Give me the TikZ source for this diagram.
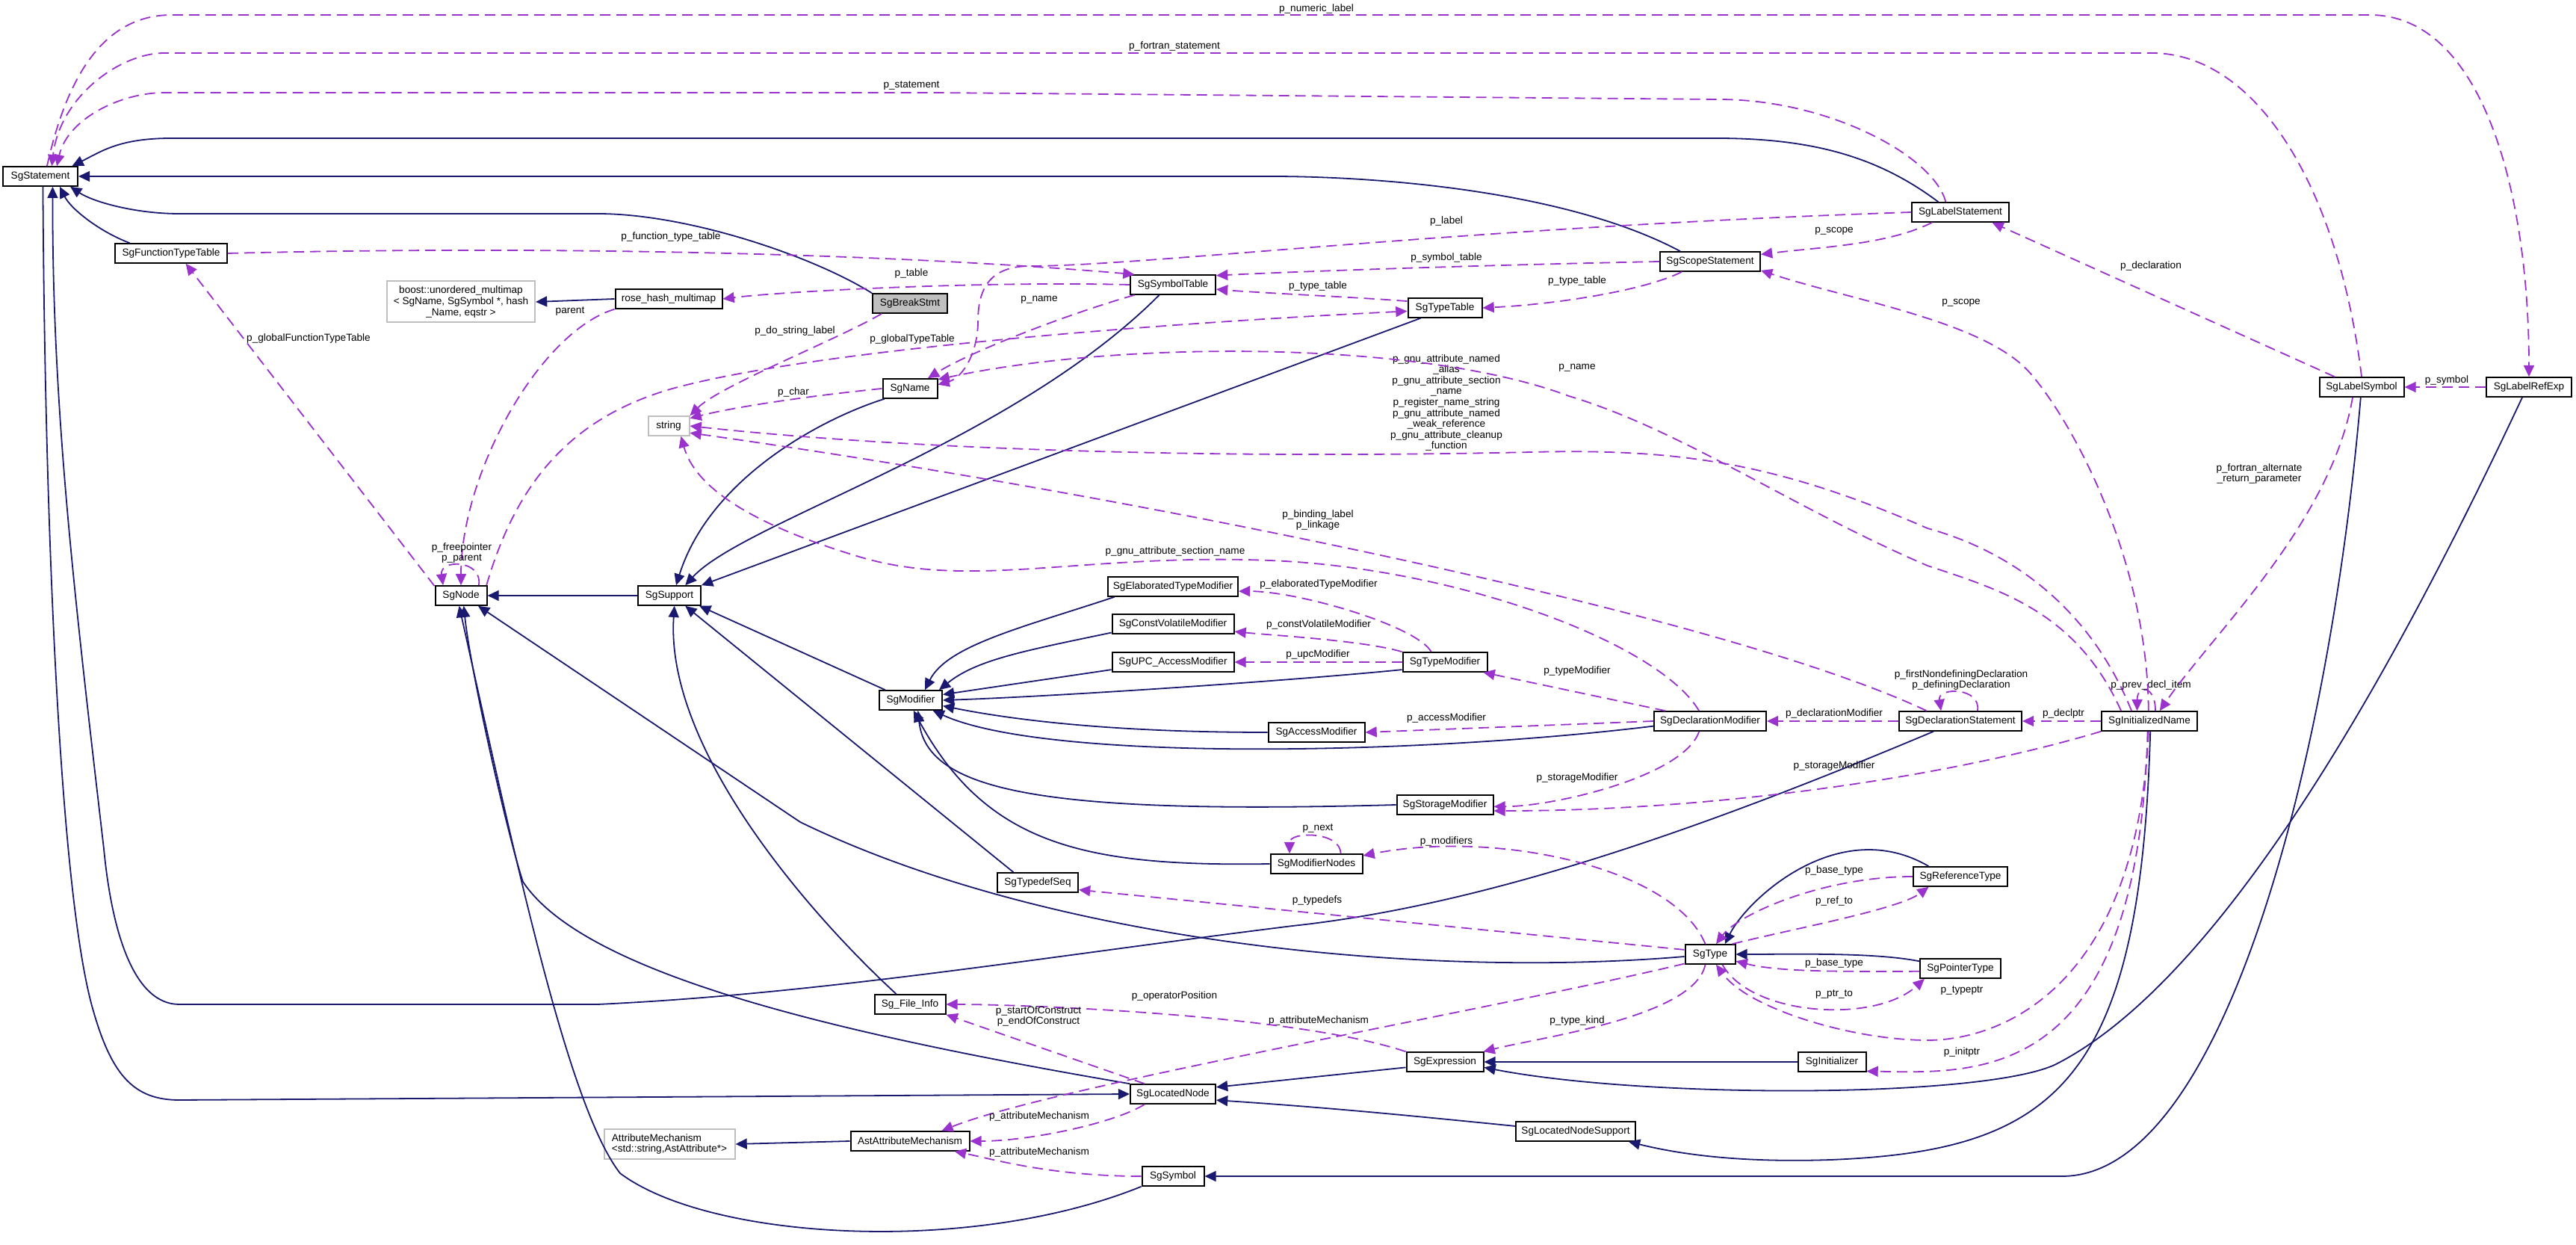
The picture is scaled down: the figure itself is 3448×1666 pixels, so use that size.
\documentclass[tikz,border=0pt]{standalone}
\usepackage{fontspec}
\setmainfont{Liberation Sans}
\usepackage{xcolor}
\usepackage{tikz}
\usetikzlibrary{arrows.meta}

\definecolor{azulheranca}{HTML}{191970}
\definecolor{roxouso}{HTML}{9A32CD}
\definecolor{cinzaext}{HTML}{BFBFBF}

\begin{document}
\begin{tikzpicture}[x=0.25pt, y=-0.25pt,
        classe/.style={
            draw=black, line width=0.5pt, fill=white,
            minimum height=6.4pt, inner xsep=1pt, inner ysep=0.5pt,
            font={\fontsize{3.4}{3.65}\selectfont}
        },
        externa/.style={classe, draw=cinzaext},
        heranca/.style={draw=azulheranca, line width=0.45pt, -{Triangle[length=3.8pt,width=3.5pt]}},
        uso/.style={draw=roxouso, line width=0.45pt, dash pattern=on 3.5pt off 2pt, -{Triangle[length=3.8pt,width=3.5pt]}},
        rotulo/.style={font={\fontsize{3.4}{3.65}\selectfont}, text=black, align=center, inner sep=0pt}
    ]

    \fill[white] (0,0) rectangle (3448,1666);
    \useasboundingbox (0,0) rectangle (3448,1666);

    % classes
    \node[classe, minimum width=25pt] (sgstatement) at (54,236) {SgStatement};
    \node[classe, minimum width=37.5pt] (sgfunctiontypetable) at (229,339) {SgFunctionTypeTable};
    \node[externa, minimum width=49.5pt, minimum height=13.75pt, align=center] (boostmap) at (617,404)
        {boost::unordered\_multimap\\< SgName, SgSymbol *, hash\\\_Name, eqstr >};
    \node[classe, minimum width=35.75pt] (rosehashmultimap) at (895,400) {rose\_hash\_multimap};
    \node[classe, fill=cinzaext, minimum width=25pt] (sgbreakstmt) at (1218,406) {SgBreakStmt};
    \node[classe, minimum width=28.5pt] (sgsymboltable) at (1570,381) {SgSymbolTable};
    \node[classe, minimum width=18.25pt] (sgname) at (1218,520) {SgName};
    \node[externa, minimum width=13.75pt] (stdstring) at (895,570) {string};
    \node[classe, minimum width=24.75pt] (sgtypetable) at (1934,412) {SgTypeTable};
    \node[classe, minimum width=33.5pt] (sgscopestatement) at (2289,350) {SgScopeStatement};
    \node[classe, minimum width=32.5pt] (sglabelstatement) at (2624,284) {SgLabelStatement};
    \node[classe, minimum width=28.25pt] (sglabelsymbol) at (3161,518) {SgLabelSymbol};
    \node[classe, minimum width=28.5pt] (sglabelrefexp) at (3385,518) {SgLabelRefExp};
    \node[classe, minimum width=17.25pt] (sgnode) at (617,797) {SgNode};
    \node[classe, minimum width=21pt] (sgsupport) at (896,797) {SgSupport};
    \node[classe, minimum width=21pt] (sgmodifier) at (1219,937) {SgModifier};
    \node[classe, minimum width=43.5pt] (sgelaboratedtypemodifier) at (1570,785) {SgElaboratedTypeModifier};
    \node[classe, minimum width=40.75pt] (sgconstvolatilemodifier) at (1570,835) {SgConstVolatileModifier};
    \node[classe, minimum width=40.75pt] (sgupcaccessmodifier) at (1570,886) {SgUPC\_AccessModifier};
    \node[classe, minimum width=32.25pt] (sgaccessmodifier) at (1762,980) {SgAccessModifier};
    \node[classe, minimum width=28.25pt] (sgtypemodifier) at (1934,886) {SgTypeModifier};
    \node[classe, minimum width=37.5pt] (sgdeclarationmodifier) at (2289,965) {SgDeclarationModifier};
    \node[classe, minimum width=32.25pt] (sgstoragemodifier) at (1934,1077) {SgStorageModifier};
    \node[classe, minimum width=41pt] (sgdeclarationstatement) at (2624,965) {SgDeclarationStatement};
    \node[classe, minimum width=32pt] (sginitializedname) at (2877,965) {SgInitializedName};
    \node[classe, minimum width=30.75pt] (sgmodifiernodes) at (1762,1156) {SgModifierNodes};
    \node[classe, minimum width=27pt] (sgtypedefseq) at (1389,1181) {SgTypedefSeq};
    \node[classe, minimum width=16.75pt] (sgtype) at (2289,1277) {SgType};
    \node[classe, minimum width=31.5pt] (sgreferencetype) at (2624,1173) {SgReferenceType};
    \node[classe, minimum width=27pt] (sgpointertype) at (2624,1296) {SgPointerType};
    \node[classe, minimum width=23.75pt] (sgfileinfo) at (1218,1344) {Sg\_File\_Info};
    \node[classe, minimum width=25.75pt] (sgexpression) at (1934,1421) {SgExpression};
    \node[classe, minimum width=22.75pt] (sginitializer) at (2452,1421) {SgInitializer};
    \node[classe, minimum width=28.5pt] (sglocatednode) at (1570,1464) {SgLocatedNode};
    \node[classe, minimum width=40pt] (sglocatednodesupport) at (2109,1514) {SgLocatedNodeSupport};
    \node[externa, minimum width=43.75pt, minimum height=10pt, align=left] (attributemechanism) at (896,1531)
        {AttributeMechanism\\<std::string,AstAttribute*>};
    \node[classe, minimum width=39.75pt] (astattributemechanism) at (1218,1527) {AstAttributeMechanism};
    \node[classe, minimum width=20.75pt] (sgsymbol) at (1570,1574) {SgSymbol};

    % heranca (seta do lado da classe base)
    \draw[heranca] (sgbreakstmt.north west) .. controls +(-80,-50) and +(120,0) .. (800,286) -- (240,286) .. controls +(-60,0) and +(30,20) .. (sgstatement.-19);
    \draw[heranca] (sglabelstatement.155) .. controls +(-80,-60) and +(130,0) .. (2297,185) -- (230,185) .. controls +(-70,0) and +(40,-20) .. (sgstatement.18);
    \draw[heranca] (sgscopestatement.161) .. controls +(-150,-80) and +(150,0) .. (1700,236) -- (sgstatement.east);
    \draw[heranca] (sgfunctiontypetable.166) .. controls +(-40,-15) and +(15,30) .. (sgstatement.-28);
    \draw[heranca] (sgdeclarationstatement.-159) .. controls (2300,1100) and (2000,1210) .. (1730,1239) .. controls (1400,1280) and (1100,1330) .. (800,1344) -- (240,1344) .. controls (180,1344) and (150,1250) .. (139,1136) .. controls (100,800) and (70,550) .. (sgstatement.-40);
    \draw[heranca] (sgstatement.-76) .. controls (60,700) and (80,1200) .. (125,1353) .. controls (150,1440) and (180,1472) .. (240,1472) -- (sglocatednode.west);
    \draw[heranca] (sglocatednode.north west) .. controls (1100,1380) and (780,1300) .. (700,1180) .. controls (680,1120) and (630,900) .. (sgnode.-75);
    \draw[heranca] (sgsymbol.south west) .. controls (1300,1680) and (950,1660) .. (830,1570) .. controls (760,1480) and (690,1150) .. (sgnode.-100);
    \draw[heranca] (sgtype.-175) .. controls (1900,1310) and (1400,1260) .. (1071,1100) -- (sgnode.-31);
    \draw[heranca] (sgsupport.west) -- (sgnode.east);
    \draw[heranca] (sgname.-158) .. controls (1100,560) and (950,640) .. (sgsupport.57);
    \draw[heranca] (sgsymboltable.-143) .. controls (1353,594) and (995,698) .. (sgsupport.33);
    \draw[heranca] (sgtypetable.-157) -- (sgsupport.north east);
    \draw[heranca] (sgmodifier.158) -- (sgsupport.-19);
    \draw[heranca] (sgtypedefseq.157) -- (sgsupport.-33);
    \draw[heranca] (sgfileinfo.143) .. controls (1080,1220) and (890,1000) .. (sgsupport.-64);
    \draw[heranca] (sgelaboratedtypemodifier.-170) .. controls +(-120,40) and +(30,-60) .. (sgmodifier.36);
    \draw[heranca] (sgconstvolatilemodifier.-172) .. controls +(-120,25) and +(50,-40) .. (sgmodifier.20);
    \draw[heranca] (sgupcaccessmodifier.-173) -- (sgmodifier.10);
    \draw[heranca] (sgtypemodifier.-170) .. controls +(-150,15) and +(150,-5) .. (sgmodifier.east);
    \draw[heranca] (sgaccessmodifier.west) .. controls +(-200,0) and +(100,20) .. (sgmodifier.-10);
    \draw[heranca] (sgdeclarationmodifier.-175) .. controls (1900,1010) and (1400,1020) .. (sgmodifier.-25);
    \draw[heranca] (sgstoragemodifier.west) .. controls (1400,1090) and (1240,1060) .. (sgmodifier.-55);
    \draw[heranca] (sgmodifiernodes.west) .. controls (1450,1160) and (1320,1130) .. (sgmodifier.-75);
    \draw[heranca] (sgexpression.-172) -- (sglocatednode.9);
    \draw[heranca] (sglocatednodesupport.175) .. controls +(-150,-15) and +(150,10) .. (sglocatednode.-8);
    \draw[heranca] (sginitializer.west) -- (sgexpression.east);
    \draw[heranca] (sglabelrefexp.-123) .. controls (3250,800) and (3000,1300) .. (2750,1425) .. controls (2650,1470) and (2200,1470) .. (sgexpression.-8);
    \draw[heranca] (sginitializedname.-85) .. controls (2865,1450) and (2750,1540) .. (2450,1552) .. controls (2330,1556) and (2250,1545) .. (sglocatednodesupport.-11);
    \draw[heranca] (sglabelsymbol.-95) .. controls (3120,1000) and (2980,1574) .. (2760,1574) -- (sgsymbol.east);
    \draw[heranca] (sgreferencetype.162) .. controls +(-120,-70) and +(30,-60) .. (sgtype.35);
    \draw[heranca] (sgpointertype.170) .. controls +(-60,-12) and +(80,0) .. (sgtype.east);
    \draw[heranca] (rosehashmultimap.west) -- (boostmap.east);
    \draw[heranca] (astattributemechanism.west) -- (attributemechanism.east);

    % membros (seta do lado do tipo usado)
    \draw[uso] (sgstatement.57) .. controls (90,100) and (140,20) .. (230,20) -- (3172,20) .. controls (3322,20) and (3385,256) .. (sglabelrefexp.north) node[rotulo] at (1762,12) {p\_numeric\_label};
    \draw[uso] (sglabelsymbol.north) .. controls (3130,250) and (3020,71) .. (2880,71) -- (220,71) .. controls (160,71) and (80,130) .. (sgstatement.42) node[rotulo] at (1572,62) {p\_fortran\_statement};
    \draw[uso] (sglabelstatement.145) .. controls +(-15,-60) and +(150,0) .. (2300,133) -- (1250,124) -- (220,124) .. controls (160,124) and (90,160) .. (sgstatement.32) node[rotulo] at (1220,115) {p\_statement};
    \draw[uso] (sglabelstatement.west) .. controls (1959,304) and (1530,356) .. (1380,356) .. controls (1330,356) and (1309,380) .. (1309,430) .. controls (1309,470) and (1290,505) .. (sgname.8) node[rotulo] at (1936,296) {p\_label};
    \draw[uso] (sglabelstatement.-160) .. controls +(-60,30) and +(80,-10) .. (sgscopestatement.8) node[rotulo] at (2455,309) {p\_scope};
    \draw[uso] (sgscopestatement.west) .. controls +(-250,5) and +(100,-5) .. (sgsymboltable.12) node[rotulo] at (1936,345) {p\_symbol\_table};
    \draw[uso] (sgscopestatement.-160) .. controls +(-50,25) and +(100,-5) .. (sgtypetable.east) node[rotulo] at (2111,376) {p\_type\_table};
    \draw[uso] (sgtypetable.170) .. controls +(-60,-5) and +(60,5) .. (sgsymboltable.-6) node[rotulo] at (1764,383) {p\_type\_table};
    \draw[uso] (sgnode.160) -- (sgfunctiontypetable.-35) node[rotulo] at (413,453) {p\_globalFunctionTypeTable};
    \draw[uso] (rosehashmultimap.south west) .. controls +(-100,30) and +(0,-150) .. (sgnode.north) node[rotulo] at (763,417) {parent};
    \draw[uso] (sgnode.30) .. controls +(5,-35) and +(-5,-35) .. (sgnode.150) node[rotulo] at (618,740) {p\_freepointer\\p\_parent};
    \draw[uso] (sgnode.22) .. controls (690,650) and (760,560) .. (900,520) .. controls (1100,465) and (1600,430) .. (sgtypetable.-175) node[rotulo] at (1221,454) {p\_globalTypeTable};
    \draw[uso] (sgsymboltable.west) .. controls +(-200,-5) and +(80,-10) .. (rosehashmultimap.east) node[rotulo] at (1220,366) {p\_table};
    \draw[uso] (sgfunctiontypetable.east) .. controls +(400,-10) and +(-350,-30) .. (sgsymboltable.165) node[rotulo] at (898,317) {p\_function\_type\_table};
    \draw[uso] (sgsymboltable.-165) .. controls (1430,420) and (1300,470) .. (sgname.30) node[rotulo] at (1391,401) {p\_name};
    \draw[uso] (sgname.west) .. controls +(-100,10) and +(60,-15) .. (stdstring.20) node[rotulo] at (1062,525) {p\_char};
    \draw[uso] (sgbreakstmt.-160) .. controls +(-60,35) and +(40,-40) .. (stdstring.north east) node[rotulo] at (1064,443) {p\_do\_string\_label};
    \draw[uso] (sginitializedname.150) .. controls (2800,820) and (2700,740) .. (2580,707) .. controls (2380,620) and (2250,600) .. (2050,605) .. controls (1600,615) and (1200,600) .. (stdstring.east)
        node[rotulo] at (1936,539) {p\_gnu\_attribute\_named\\\_alias\\p\_gnu\_attribute\_section\\\_name\\p\_register\_name\_string\\p\_gnu\_attribute\_named\\\_weak\_reference\\p\_gnu\_attribute\_cleanup\\\_function};
    \draw[uso] (sginitializedname.160) .. controls (2780,820) and (2680,790) .. (2580,757) .. controls (2400,680) and (2250,575) .. (2100,530) .. controls (1900,455) and (1500,455) .. (sgname.18) node[rotulo] at (2111,492) {p\_name};
    \draw[uso] (sgdeclarationstatement.163) .. controls (2300,820) and (1500,660) .. (stdstring.-18) node[rotulo] at (1764,696) {p\_binding\_label\\p\_linkage};
    \draw[uso] (sgdeclarationmodifier.137) .. controls (2220,860) and (1950,760) .. (1700,750) .. controls (1450,740) and (1300,790) .. (1150,745) .. controls (1000,700) and (930,650) .. (stdstring.-40) node[rotulo] at (1573,738) {p\_gnu\_attribute\_section\_name};
    \draw[uso] (sgdeclarationmodifier.167) -- (sgtypemodifier.-15) node[rotulo] at (2111,898) {p\_typeModifier};
    \draw[uso] (sgdeclarationmodifier.west) -- (sgaccessmodifier.east) node[rotulo] at (1936,961) {p\_accessModifier};
    \draw[uso] (sgdeclarationmodifier.-137) .. controls +(-20,60) and +(80,0) .. (sgstoragemodifier.-2) node[rotulo] at (2111,1041) {p\_storageModifier};
    \draw[uso] (sginitializedname.south west) .. controls +(-200,60) and +(300,0) .. (sgstoragemodifier.-7) node[rotulo] at (2455,1025) {p\_storageModifier};
    \draw[uso] (sgdeclarationstatement.west) -- (sgdeclarationmodifier.east) node[rotulo] at (2455,955) {p\_declarationModifier};
    \draw[uso] (sginitializedname.west) -- (sgdeclarationstatement.east) node[rotulo] at (2762,955) {p\_declptr};
    \draw[uso] (sgdeclarationstatement.31) .. controls +(5,-32) and +(-5,-32) .. (sgdeclarationstatement.152) node[rotulo] at (2625,910) {p\_firstNondefiningDeclaration\\p\_definingDeclaration};
    \draw[uso] (sginitializedname.60) .. controls +(0,-35) and +(0,-35) .. (sginitializedname.140) node[rotulo] at (2879,917) {p\_prev\_decl\_item};
    \draw[uso] (sglabelsymbol.-131) .. controls (3120,700) and (2960,850) .. (sginitializedname.45) node[rotulo] at (3024,634) {p\_fortran\_alternate\\\_return\_parameter};
    \draw[uso] (sginitializedname.95) .. controls (2874,752) and (2778,570) .. (2718,500) .. controls (2658,430) and (2478,402) .. (sgscopestatement.-10) node[rotulo] at (2625,405) {p\_scope};
    \draw[uso] (sglabelsymbol.159) -- (sglabelstatement.-18) node[rotulo] at (2879,356) {p\_declaration};
    \draw[uso] (sglabelrefexp.west) -- (sglabelsymbol.east) node[rotulo] at (3275,509) {p\_symbol};
    \draw[uso] (sgtype.115) .. controls (2240,1160) and (2000,1110) .. (sgmodifiernodes.10) node[rotulo] at (1936,1126) {p\_modifiers};
    \draw[uso] (sgmodifiernodes.23) .. controls +(0,-30) and +(0,-30) .. (sgmodifiernodes.159) node[rotulo] at (1764,1109) {p\_next};
    \draw[uso] (sgtype.170) -- (sgtypedefseq.-10) node[rotulo] at (1763,1205) {p\_typedefs};
    \draw[uso] (sgtype.-115) .. controls +(-15,70) and +(80,-20) .. (sgexpression.15) node[rotulo] at (2111,1366) {p\_type\_kind};
    \draw[uso] (sgtype.-160) .. controls +(-250,60) and +(150,-60) .. (astattributemechanism.18) node[rotulo] at (1765,1366) {p\_attributeMechanism};
    \draw[uso] (sgtype.25) .. controls +(80,-20) and +(-40,30) .. (sgreferencetype.-162) node[rotulo] at (2455,1206) {p\_ref\_to};
    \draw[uso] (sgreferencetype.west) .. controls +(-120,0) and +(30,-40) .. (sgtype.60) node[rotulo] at (2455,1165) {p\_base\_type};
    \draw[uso] (sgpointertype.-176) .. controls +(-100,0) and +(60,15) .. (sgtype.-15) node[rotulo] at (2455,1289) {p\_base\_type};
    \draw[uso] (sgtype.-40) .. controls (2344,1360) and (2510,1370) .. (sgpointertype.-164) node[rotulo] at (2455,1331) {p\_ptr\_to};
    \draw[uso] (sginitializedname.-95) .. controls (2860,1320) and (2680,1392) .. (2580,1392) .. controls (2480,1392) and (2340,1350) .. (sgtype.-60) node[rotulo] at (2626,1326) {p\_typeptr};
    \draw[uso] (sginitializedname.-100) .. controls (2862,1450) and (2650,1436) .. (sginitializer.-15) node[rotulo] at (2626,1408) {p\_initptr};
    \draw[uso] (sgexpression.north west) .. controls +(-150,-50) and +(100,0) .. (sgfileinfo.east) node[rotulo] at (1572,1333) {p\_operatorPosition};
    \draw[uso] (sglocatednode.160) -- (sgfileinfo.south east) node[rotulo] at (1390,1360) {p\_startOfConstruct\\p\_endOfConstruct};
    \draw[uso] (sglocatednode.-160) .. controls +(-40,25) and +(80,0) .. (astattributemechanism.east) node[rotulo] at (1391,1494) {p\_attributeMechanism};
    \draw[uso] (sgsymbol.west) .. controls +(-120,0) and +(50,10) .. (astattributemechanism.-13) node[rotulo] at (1391,1542) {p\_attributeMechanism};
    \draw[uso] (sgtypemodifier.143) .. controls +(-20,-35) and +(80,0) .. (sgelaboratedtypemodifier.-4) node[rotulo] at (1765,782) {p\_elaboratedTypeModifier};
    \draw[uso] (sgtypemodifier.north west) .. controls +(-50,-15) and +(50,5) .. (sgconstvolatilemodifier.-7) node[rotulo] at (1765,836) {p\_constVolatileModifier};
    \draw[uso] (sgtypemodifier.west) -- (sgupcaccessmodifier.east) node[rotulo] at (1764,876) {p\_upcModifier};

\end{tikzpicture}
\end{document}
